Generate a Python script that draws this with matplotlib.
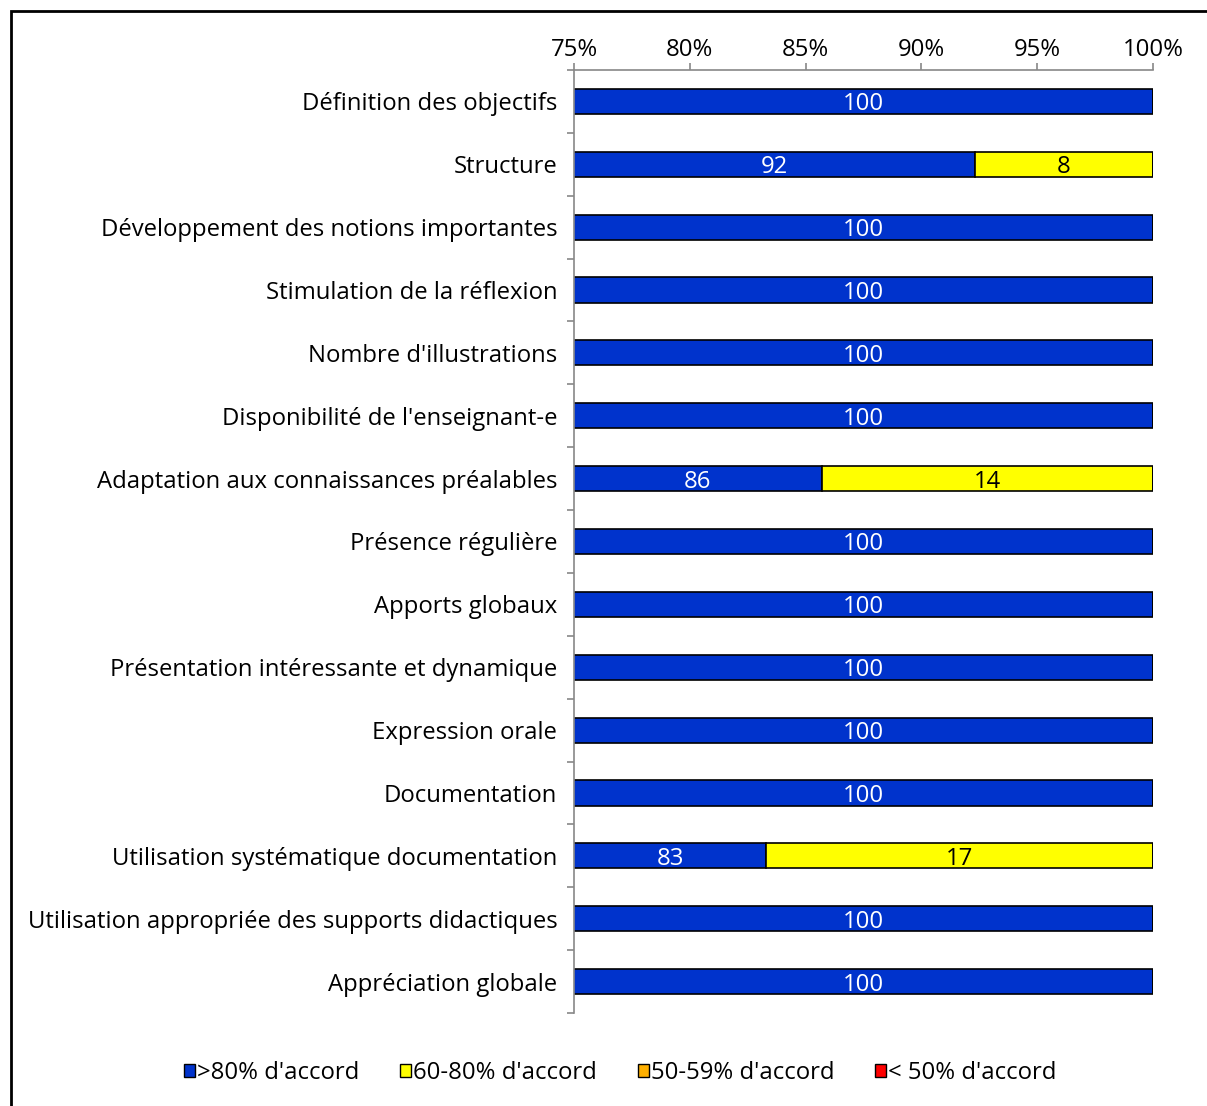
import matplotlib.pyplot as plt
from matplotlib.patches import Patch, Rectangle
import numpy as np

plt.rcParams['font.family'] = ['Open Sans', 'DejaVu Sans']

# data
categories = [
    "Définition des objectifs",
    "Structure",
    "Développement des notions importantes",
    "Stimulation de la réflexion",
    "Nombre d'illustrations",
    "Disponibilité de l'enseignant-e",
    "Adaptation aux connaissances préalables",
    "Présence régulière",
    "Apports globaux",
    "Présentation intéressante et dynamique",
    "Expression orale",
    "Documentation",
    "Utilisation systématique documentation",
    "Utilisation appropriée des supports didactiques",
    "Appréciation globale",
]
accord_80 = [100, 92.3, 100, 100, 100, 100, 85.7, 100, 100, 100, 100, 100, 83.3, 100, 100]
accord_60 = [0, 7.7, 0, 0, 0, 0, 14.3, 0, 0, 0, 0, 0, 16.7, 0, 0]
accord_50 = [0] * 15
accord_lt50 = [0] * 15

series = [
    (accord_80, "#0033CC", "white", ">80% d'accord"),
    (accord_60, "#FFFF00", "black", "60-80% d'accord"),
    (accord_50, "#FFB000", "black", "50-59% d'accord"),
    (accord_lt50, "#FF0000", "black", "< 50% d'accord"),
]

fs = 17.2

fig = plt.figure(figsize=(12.07, 11.06), dpi=100)
ax = fig.add_axes([574 / 1207, 1 - 1013 / 1106, (1153 - 574) / 1207, (1013 - 70) / 1106])

xmin, xmax = 75, 100
y = np.arange(len(categories))
left = np.zeros(len(categories))
for vals, col, tcol, lab in series:
    vals = np.array(vals, dtype=float)
    ax.barh(y, vals, left=left, height=0.4, color=col, edgecolor='black', linewidth=1.2)
    for i, v in enumerate(vals):
        if v > 0:
            a = max(left[i], xmin)
            b = min(left[i] + v, xmax)
            ax.text((a + b) / 2, y[i], f"{round(v):d}", ha='center', va='center_baseline',
                    color=tcol, fontsize=fs)
    left += vals

ax.set_xlim(xmin, xmax)
ax.set_ylim(len(categories) - 0.5, -0.5)
ax.xaxis.tick_top()
ax.set_xticks(np.arange(75, 101, 5))
ax.set_xticklabels([f"{t}%" for t in range(75, 101, 5)], fontsize=fs)
ax.set_yticks(y)
ax.set_yticklabels(categories, fontsize=fs, va='center_baseline')
ax.set_yticks(np.arange(-0.5, len(categories), 1), minor=True)
ax.tick_params(axis='y', which='major', length=0, pad=12)
ax.tick_params(axis='y', which='minor', length=5, color='#888888', width=1.2)
ax.tick_params(axis='x', length=5, color='#888888', width=1.2, pad=1)
for s in ['right', 'bottom']:
    ax.spines[s].set_visible(False)
for s in ['left', 'top']:
    ax.spines[s].set_color('#888888')
    ax.spines[s].set_linewidth(1.2)

handles = [Patch(facecolor=c, edgecolor='black', label=l) for _, c, _, l in series]
fig.legend(handles=handles, loc='center', bbox_to_anchor=(0.514, 0.0298), ncol=4,
           frameon=False, fontsize=fs, handlelength=0.45, handleheight=0.45,
           handletextpad=0.1, columnspacing=1.7)

# outer frame
fig.patches.append(Rectangle((11 / 1207, -0.1), 1.2, 1 - 11 / 1106 + 0.1,
                             transform=fig.transFigure, fill=False,
                             edgecolor='black', linewidth=2))

fig.savefig('out.png', dpi=100)
